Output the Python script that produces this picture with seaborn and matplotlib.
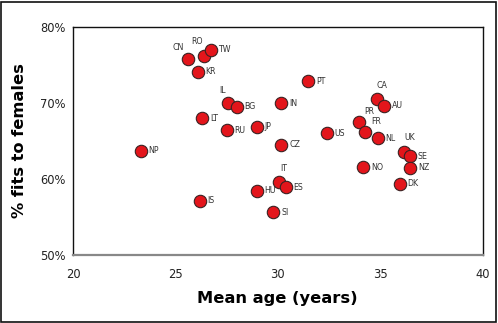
import matplotlib
matplotlib.use("Agg")
import matplotlib.pyplot as plt
import seaborn as sns
import pandas as pd
from matplotlib.patches import Rectangle

# Country codes, mean age and share of fits to females
countries = ["CN", "RO", "TW", "KR", "IL", "BG", "LT", "RU", "JP", "IN",
             "PT", "CA", "AU", "PR", "FR", "NL", "US", "CZ", "UK", "SE",
             "NZ", "NO", "DK", "IT", "ES", "HU", "SI", "IS", "NP"]
mean_age = [25.61, 26.39, 26.72, 26.10, 27.59, 28.00, 26.31, 27.50, 28.99, 30.18,
            31.50, 34.86, 35.19, 33.97, 34.28, 34.88, 32.39, 30.18, 36.15, 36.47,
            36.47, 34.18, 35.97, 30.08, 30.39, 28.99, 29.79, 26.20, 23.30]
pct_female = [75.8, 76.2, 77.0, 74.1, 70.0, 69.5, 68.0, 66.4, 66.9, 70.0,
              72.85, 70.5, 69.65, 67.55, 66.2, 65.35, 66.0, 64.5, 63.55, 63.0,
              61.5, 61.55, 59.4, 59.65, 58.9, 58.45, 55.65, 57.15, 63.7]

# Labels that sit above the marker instead of to its right (dx, dy in points)
label_offsets = {
    "CN": (-7, 5, "center"), "RO": (-5, 7, "center"), "IL": (-4, 6, "center"),
    "IT": (3, 6.5, "center"), "CA": (3.5, 6.5, "center"), "UK": (4.5, 7, "center"),
    "PR": (4, 4, "left"), "FR": (4, 4.5, "left"),
}

df = pd.DataFrame({"country": countries, "age": mean_age, "pct": pct_female})

sns.set_style("white")
plt.rcParams["font.family"] = ["DejaVu Sans"]

fig = plt.figure(figsize=(4.98, 3.23), dpi=100)
ax = fig.add_axes([73 / 498, 1 - 255 / 323, (482.5 - 73) / 498, (255 - 27) / 323])

sns.scatterplot(data=df, x="age", y="pct", ax=ax, s=80, color="#e3151b",
                edgecolor="#3a2222", linewidth=0.8, zorder=3, legend=False)

for c, xv, yv in zip(countries, mean_age, pct_female):
    if c in label_offsets:
        dx, dy, ha = label_offsets[c]
        va = "bottom"
    else:
        dx, dy, ha, va = 5.5, 0, "left", "center"
    ax.annotate(c, (xv, yv), xytext=(dx, dy), textcoords="offset points",
                ha=ha, va=va, fontsize=5.7, color="#333333", zorder=4)

ax.set_xlim(20, 40)
ax.set_ylim(50, 80)
ax.set_xticks([20, 25, 30, 35, 40])
ax.set_yticks([50, 60, 70, 80])
ax.set_yticklabels([f"{v}%" for v in [50, 60, 70, 80]])

ax.tick_params(axis="both", labelsize=8.3, labelcolor="#222222", length=3.5,
               width=0.8, color="#888888", direction="out", pad=2)
ax.tick_params(axis="x", pad=6)

for side in ["left", "top", "right"]:
    ax.spines[side].set_color("#111111")
    ax.spines[side].set_linewidth(1.0)
ax.spines["bottom"].set_color("#888888")
ax.spines["bottom"].set_linewidth(1.6)

ax.set_xlabel("Mean age (years)", fontsize=11.7, fontweight="bold", labelpad=7,
              color="#000000")
ax.set_ylabel("% fits to females", fontsize=11.7, fontweight="bold", labelpad=9,
              color="#000000")

# Outer frame around the whole figure
fig.patches.append(Rectangle((0.002, 0.004), 0.994, 0.991, transform=fig.transFigure,
                             fill=False, edgecolor="#111111", linewidth=1.2))

fig.savefig("out.png", dpi=100)
